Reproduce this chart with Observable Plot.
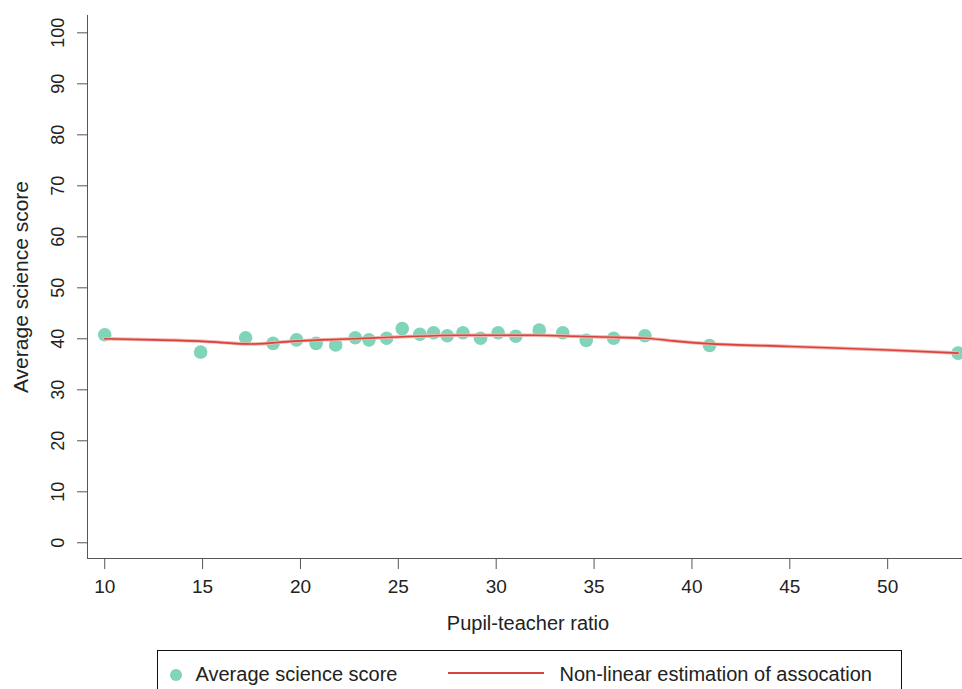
<!DOCTYPE html>
<html>
<head>
<meta charset="utf-8">
<script src="https://cdn.jsdelivr.net/npm/d3@7"></script>
<script src="https://cdn.jsdelivr.net/npm/@observablehq/plot@0.6"></script>
<style>
  html, body { margin: 0; padding: 0; background: #fff; overflow: hidden; }
  #wrap { position: relative; width: 962px; height: 689px; overflow: hidden; font-family: "Liberation Sans", Arial, sans-serif; }
  #chart svg { max-width: none !important; display: block; }
  #legend { position: absolute; left: 157px; top: 650px; width: 745px; height: 60px; border: 1.5px solid #111; box-sizing: border-box; }
  .li { position: absolute; top: 11px; font-size: 20px; line-height: 24px; color: #222; white-space: nowrap; }
  .dot { position: absolute; left: 12px; top: 17.5px; width: 12px; height: 12px; border-radius: 50%; background: #7fd4b9; }
  .ln { position: absolute; left: 289.5px; top: 21px; width: 96px; height: 2px; background: #d8433c; }
</style>
</head>
<body>
<div id="wrap">
  <div id="chart"></div>
  <div id="legend">
    <div class="dot"></div><div class="li" style="left:37.5px">Average science score</div>
    <div class="ln"></div><div class="li" style="left:401.5px">Non-linear estimation of assocation</div>
  </div>
</div>
<script>
// Observed points: pupil-teacher ratio vs average science score
const ratio = [10.0, 14.9, 17.2, 18.6, 19.8, 20.8, 21.8, 22.8, 23.5, 24.4, 25.2, 26.1, 26.8, 27.5, 28.3, 29.2, 30.1, 31.0, 32.2, 33.4, 34.6, 36.0, 37.6, 40.9, 53.6];
const score = [40.8, 37.4, 40.2, 39.1, 39.8, 39.1, 38.8, 40.2, 39.8, 40.1, 42.0, 40.9, 41.2, 40.6, 41.2, 40.1, 41.2, 40.5, 41.7, 41.2, 39.7, 40.1, 40.6, 38.7, 37.2];
// Non-linear (loess-like) fit
const fitRatio = [10, 12.5, 15, 17.2, 18.6, 20, 22, 24, 26, 28, 30, 32, 34, 36, 37.6, 39, 41, 45, 50, 53.6];
const fitScore = [40.0, 39.8, 39.5, 39.0, 39.2, 39.6, 39.9, 40.2, 40.5, 40.7, 40.7, 40.7, 40.5, 40.3, 40.1, 39.6, 39.0, 38.5, 37.8, 37.2];
const xTicks = [10, 15, 20, 25, 30, 35, 40, 45, 50];
const yTicks = [0, 10, 20, 30, 40, 50, 60, 70, 80, 90, 100];
const xDomain = [9.12, 54.13];
const yDomain = [-3.08, 103.4];

const points = ratio.map((x, i) => ({x, y: score[i]}));
const fit = fitRatio.map((x, i) => ({x, y: fitScore[i]}));

const chart = Plot.plot({
  width: 970,
  height: 640,
  marginLeft: 87,
  marginRight: 2,
  marginTop: 15,
  marginBottom: 82,
  style: {fontFamily: "'Liberation Sans', Arial, sans-serif", fontSize: "18px", color: "#222", background: "#fff", maxWidth: "none"},
  x: {domain: xDomain, label: null},
  y: {domain: yDomain, label: null},
  marks: [
    Plot.axisX({ticks: xTicks, tickSize: 11, tickPadding: 10, stroke: "#555", fill: "#222", fontSize: 19}),
    Plot.axisY({ticks: yTicks, tickSize: 10, tickPadding: 14, tickRotate: -90, stroke: "#555", fill: "#222", fontSize: 18}),
    Plot.ruleX([xDomain[0]], {stroke: "#555"}),
    Plot.ruleY([yDomain[0]], {stroke: "#555"}),
    Plot.dot(points, {x: "x", y: "y", r: 6.8, fill: "#7fd4b9", stroke: "none"}),
    Plot.line(fit, {x: "x", y: "y", stroke: "#f2b3ae", strokeWidth: 3.5, curve: "natural"}),
    Plot.line(fit, {x: "x", y: "y", stroke: "#d8433c", strokeWidth: 1.6, curve: "natural"}),
    Plot.text(["Pupil-teacher ratio"], {frameAnchor: "bottom", lineAnchor: "middle", textAnchor: "middle", dy: 65, fontSize: 20, fill: "#222"}),
    Plot.text(["Average science score"], {frameAnchor: "left", lineAnchor: "middle", textAnchor: "middle", dx: -66, rotate: -90, fontSize: 21, fill: "#222"})
  ]
});
document.getElementById("chart").appendChild(chart);
</script>
</body>
</html>
